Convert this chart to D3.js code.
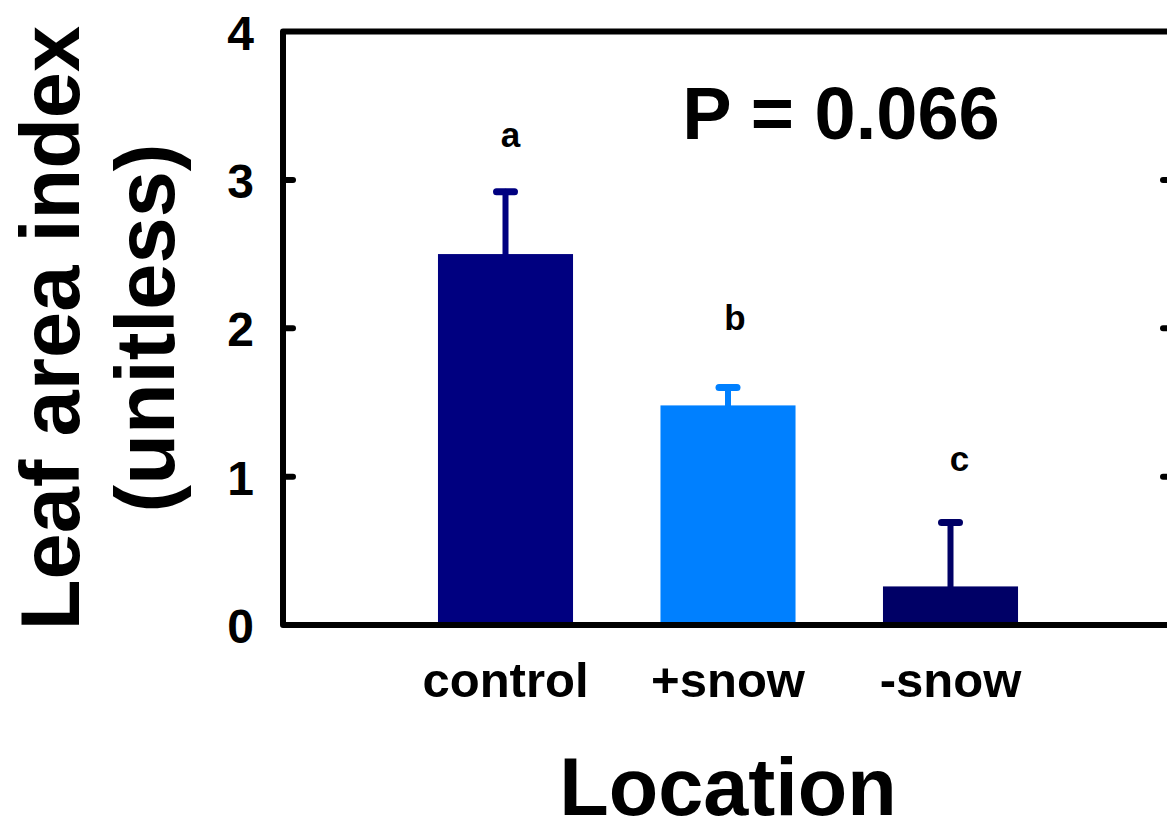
<!DOCTYPE html>
<html>
<head>
<meta charset="utf-8">
<script src="https://d3js.org/d3.v7.min.js"></script>
<style>
  body { margin: 0; background: #fff; }
  svg { display: block; }
  text { font-family: "Liberation Sans", Arial, sans-serif; font-weight: bold; fill: #000; }
</style>
</head>
<body>
<div id="chart"></div>
<script>
// data
var categories = ["control", "+snow", "-snow"];
var means = [2.50, 1.48, 0.26];
var errors = [0.42, 0.12, 0.43];
var letters = ["a", "b", "c"];
var letterPos = [3.22, 1.99, 1.04];
var barColors = ["#000080", "#0080ff", "#000066"];
var yTicks = [0, 1, 2, 3, 4];
var pText = "P = 0.066";

var W = 1167, H = 825;
// plot frame (right edge falls just outside the picture)
var frame = {left: 283, right: 1173, top: 31.5, bottom: 625};

var svg = d3.select("#chart").append("svg")
    .attr("width", W)
    .attr("height", H);

var x = d3.scalePoint()
    .domain(categories)
    .range([frame.left, frame.right])
    .padding(1);

var y = d3.scaleLinear()
    .domain([0, 4])
    .range([frame.bottom, frame.top]);

var barW = x.step() * 0.607;

// bars
svg.append("g").selectAll("rect")
    .data(categories)
  .enter().append("rect")
    .attr("x", function(d) { return x(d) - barW / 2; })
    .attr("y", function(d, i) { return y(means[i]); })
    .attr("width", barW)
    .attr("height", function(d, i) { return y(0) - y(means[i]); })
    .style("fill", function(d, i) { return barColors[i]; });

// error bars (upper only)
var eb = svg.append("g").selectAll("g")
    .data(categories)
  .enter().append("g")
    .style("stroke", function(d, i) { return barColors[i]; })
    .style("stroke-linecap", "round");
eb.append("line")
    .attr("x1", function(d) { return x(d); })
    .attr("x2", function(d) { return x(d); })
    .attr("y1", function(d, i) { return y(means[i]); })
    .attr("y2", function(d, i) { return y(means[i] + errors[i]); })
    .style("stroke-width", 6);
eb.append("line")
    .attr("x1", function(d) { return x(d) - 9; })
    .attr("x2", function(d) { return x(d) + 9; })
    .attr("y1", function(d, i) { return y(means[i] + errors[i]); })
    .attr("y2", function(d, i) { return y(means[i] + errors[i]); })
    .style("stroke-width", 7);

// significance letters
svg.append("g").selectAll("text")
    .data(letters)
  .enter().append("text")
    .attr("x", function(d, i) { return x(categories[i]) + 5 + i * 2; })
    .attr("y", function(d, i) { return y(letterPos[i]); })
    .style("text-anchor", "middle")
    .style("font-size", "35px")
    .text(function(d) { return d; });

// frame
svg.append("path")
    .attr("d", "M" + frame.left + "," + frame.top + "H" + frame.right + "V" + frame.bottom + "H" + frame.left + "Z")
    .style("fill", "none")
    .style("stroke", "#000")
    .style("stroke-width", 6)
    .style("stroke-linejoin", "round");

// inward ticks on left and right
var tickIn = yTicks.filter(function(d) { return d > 0 && d < 4; });
svg.append("g").selectAll("line")
    .data(tickIn)
  .enter().append("line")
    .attr("x1", frame.left).attr("x2", frame.left + 10)
    .attr("y1", function(d) { return y(d); })
    .attr("y2", function(d) { return y(d); })
    .style("stroke", "#000").style("stroke-width", 6).style("stroke-linecap", "round");
svg.append("g").selectAll("line")
    .data(tickIn)
  .enter().append("line")
    .attr("x1", frame.right).attr("x2", frame.right - 10)
    .attr("y1", function(d) { return y(d); })
    .attr("y2", function(d) { return y(d); })
    .style("stroke", "#000").style("stroke-width", 6).style("stroke-linecap", "round");

// y tick labels
svg.append("g").selectAll("text")
    .data(yTicks)
  .enter().append("text")
    .attr("x", 254)
    .attr("y", function(d) { return y(d) + 18; })
    .style("text-anchor", "end")
    .style("font-size", "48px")
    .text(function(d) { return d; });

// x category labels
svg.append("g").selectAll("text")
    .data(categories)
  .enter().append("text")
    .attr("x", function(d) { return x(d); })
    .attr("y", 697)
    .style("text-anchor", "middle")
    .style("font-size", "49px")
    .text(function(d) { return d; });

// x axis title
svg.append("text")
    .attr("x", 728)
    .attr("y", 815)
    .style("text-anchor", "middle")
    .style("font-size", "81px")
    .text("Location");

// y axis title (two lines)
svg.append("text")
    .attr("transform", "translate(79,328) rotate(-90)")
    .style("text-anchor", "middle")
    .style("font-size", "83px")
    .text("Leaf area index");
svg.append("text")
    .attr("transform", "translate(174,328) rotate(-90)")
    .style("text-anchor", "middle")
    .style("font-size", "83px")
    .text("(unitless)");

// p value
svg.append("text")
    .attr("x", 841)
    .attr("y", 139)
    .style("text-anchor", "middle")
    .style("font-size", "74px")
    .text(pText);
</script>
</body>
</html>
